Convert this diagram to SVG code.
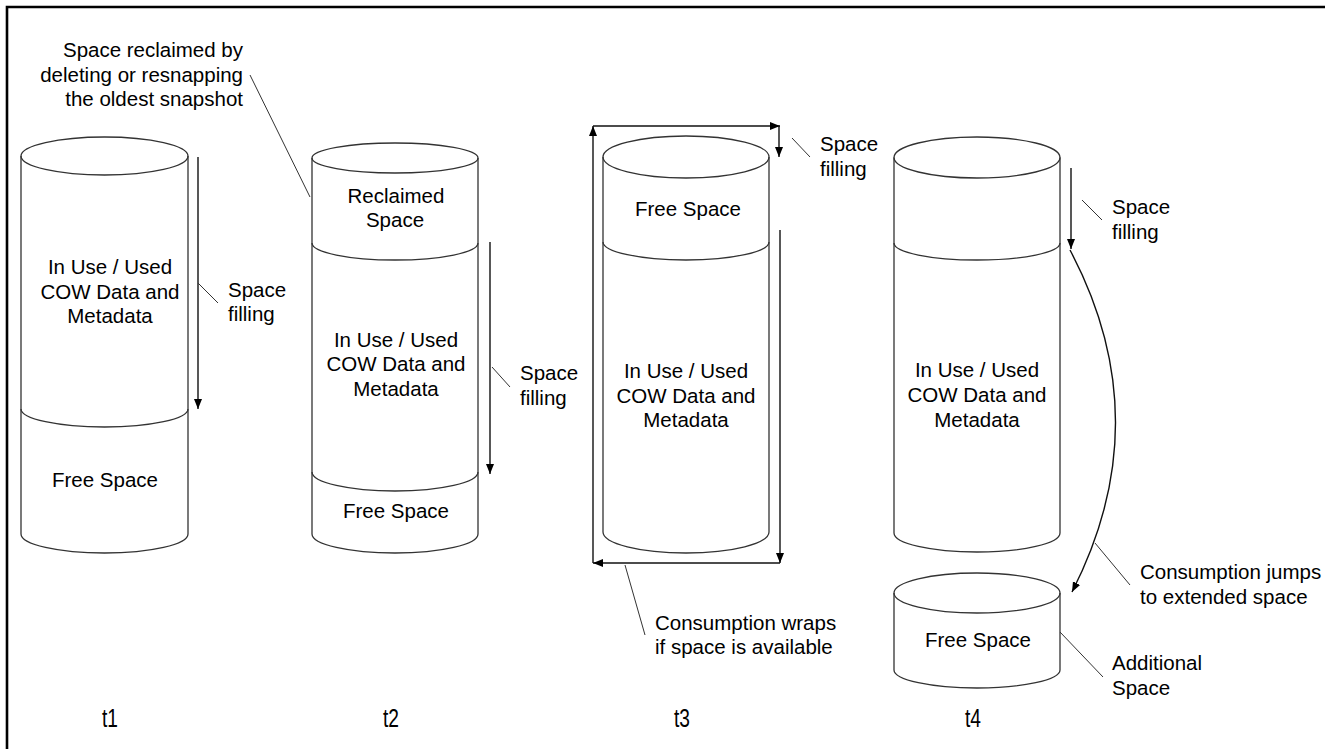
<svg xmlns="http://www.w3.org/2000/svg" width="1325" height="749" viewBox="0 0 1325 749">
<defs>
<marker id="ah" markerWidth="10" markerHeight="10" viewBox="0 0 10 10" refX="10" refY="5" orient="auto" markerUnits="userSpaceOnUse">
<path d="M0,1 L10,5 L0,9 Z" fill="#000"/>
</marker>
<style>
.cyl{fill:none;stroke:#333;stroke-width:1.3}
.t{font-family:"Liberation Sans",Arial,sans-serif;font-size:20.5px;fill:#000}
.c{text-anchor:middle}
.r{text-anchor:end}
.ln{fill:none;stroke:#111;stroke-width:1.4}
.ld{fill:none;stroke:#333;stroke-width:1}
.lab{font-family:"Liberation Sans",Arial,sans-serif;font-size:26px;fill:#000;text-anchor:middle}
</style>
</defs>
<rect width="1325" height="749" fill="#fff"/>
<path d="M7,749 V7 H1325" fill="none" stroke="#000" stroke-width="2.6"/>

<g id="cyl-t1">
<ellipse class="cyl" cx="104.5" cy="156" rx="83.5" ry="19"/>
<path class="cyl" d="M21,156 V534 A83.5,19 0 0 0 188,534 V156"/>
<path class="cyl" d="M21,409 A83.5,18 0 0 0 188,409"/>
<text class="t c" x="110" y="274">In Use / Used</text>
<text class="t c" x="110" y="299">COW Data and</text>
<text class="t c" x="110" y="323">Metadata</text>
<text class="t c" x="105" y="487">Free Space</text>
</g>

<g id="cyl-t2">
<ellipse class="cyl" cx="395" cy="158" rx="83" ry="15"/>
<path class="cyl" d="M312,158 V534 A83,19 0 0 0 478,534 V158"/>
<path class="cyl" d="M312,243 A83,17 0 0 0 478,243"/>
<path class="cyl" d="M312,472 A83,19 0 0 0 478,472"/>
<text class="t c" x="396" y="203">Reclaimed</text>
<text class="t c" x="395" y="227">Space</text>
<text class="t c" x="396" y="347">In Use / Used</text>
<text class="t c" x="396" y="371">COW Data and</text>
<text class="t c" x="396" y="396">Metadata</text>
<text class="t c" x="396" y="518">Free Space</text>
</g>

<g id="cyl-t3">
<ellipse class="cyl" cx="686" cy="157" rx="83" ry="21"/>
<path class="cyl" d="M603,157 V532 A83,21 0 0 0 769,532 V157"/>
<path class="cyl" d="M603,242 A83,18 0 0 0 769,242"/>
<text class="t c" x="688" y="216">Free Space</text>
<text class="t c" x="686" y="378">In Use / Used</text>
<text class="t c" x="686" y="403">COW Data and</text>
<text class="t c" x="686" y="427">Metadata</text>
</g>

<g id="cyl-t4">
<ellipse class="cyl" cx="977" cy="157.5" rx="83" ry="20.5"/>
<path class="cyl" d="M894,157.5 V533 A83,19 0 0 0 1060,533 V157.5"/>
<path class="cyl" d="M894,243 A83,17 0 0 0 1060,243"/>
<text class="t c" x="977" y="377">In Use / Used</text>
<text class="t c" x="977" y="402">COW Data and</text>
<text class="t c" x="977" y="427">Metadata</text>
</g>

<g id="cyl-t4-extra">
<ellipse class="cyl" cx="977" cy="593" rx="83" ry="20"/>
<path class="cyl" d="M894,593 V670 A83,18 0 0 0 1060,670 V593"/>
<text class="t c" x="978" y="647">Free Space</text>
</g>

<g id="connectors">
<line class="ln" x1="198" y1="157" x2="198" y2="409" marker-end="url(#ah)"/>
<line class="ln" x1="490" y1="242" x2="490" y2="474" marker-end="url(#ah)"/>
<line class="ln" x1="780" y1="230" x2="780" y2="563" marker-end="url(#ah)"/>
<line class="ln" x1="780" y1="563" x2="593" y2="563" marker-end="url(#ah)"/>
<line class="ln" x1="593" y1="563" x2="593" y2="126" marker-end="url(#ah)"/>
<line class="ln" x1="593" y1="126" x2="780" y2="126" marker-end="url(#ah)"/>
<line class="ln" x1="779" y1="126" x2="779" y2="157" marker-end="url(#ah)"/>
<line class="ln" x1="1071" y1="168" x2="1071" y2="249" marker-end="url(#ah)"/>
<path class="ln" d="M1070,250 Q1160,420 1072,592" marker-end="url(#ah)"/>
<line class="ld" x1="198" y1="283" x2="218" y2="303"/>
<line class="ld" x1="250" y1="75" x2="310" y2="197"/>
<line class="ld" x1="492" y1="367" x2="510" y2="387"/>
<line class="ld" x1="792" y1="138" x2="810" y2="157"/>
<line class="ld" x1="625" y1="565" x2="645" y2="635"/>
<line class="ld" x1="1082" y1="200" x2="1102" y2="220"/>
<line class="ld" x1="1095" y1="543" x2="1130" y2="585"/>
<line class="ld" x1="1060" y1="632" x2="1103" y2="677"/>
</g>

<g id="labels">
<text class="t r" x="243" y="57">Space reclaimed by</text>
<text class="t r" x="243" y="82">deleting or resnapping</text>
<text class="t r" x="243" y="106">the oldest snapshot</text>
<text class="t" x="228" y="297">Space</text>
<text class="t" x="228" y="321">filling</text>
<text class="t" x="520" y="380">Space</text>
<text class="t" x="520" y="405">filling</text>
<text class="t" x="820" y="151">Space</text>
<text class="t" x="820" y="176">filling</text>
<text class="t" x="655" y="630">Consumption wraps</text>
<text class="t" x="655" y="654">if space is available</text>
<text class="t" x="1112" y="214">Space</text>
<text class="t" x="1112" y="239">filling</text>
<text class="t" x="1140" y="579">Consumption jumps</text>
<text class="t" x="1140" y="604">to extended space</text>
<text class="t" x="1112" y="670">Additional</text>
<text class="t" x="1112" y="695">Space</text>
<text class="lab" x="110" y="727" textLength="16" lengthAdjust="spacingAndGlyphs">t1</text>
<text class="lab" x="391" y="727" textLength="16" lengthAdjust="spacingAndGlyphs">t2</text>
<text class="lab" x="682" y="727" textLength="16" lengthAdjust="spacingAndGlyphs">t3</text>
<text class="lab" x="973" y="727" textLength="16" lengthAdjust="spacingAndGlyphs">t4</text>
</g>
</svg>
